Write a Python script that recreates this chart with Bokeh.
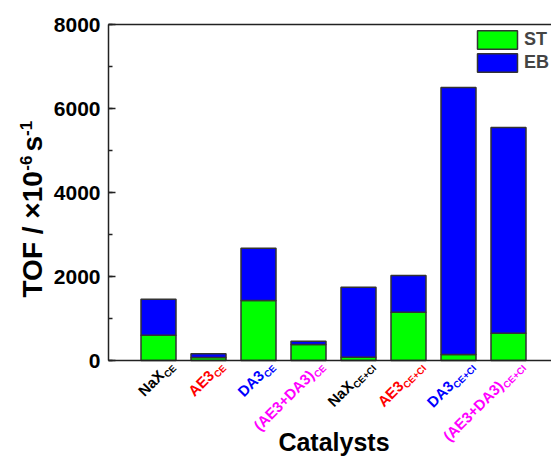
import math
from bokeh.plotting import figure
from bokeh.models import Range1d, Label, SingleIntervalTicker, FixedTicker, LinearAxis
from bokeh.embed import file_html
from bokeh.resources import INLINE

# ---- data ----
main_labels = ["NaX", "AE3", "DA3", "(AE3+DA3)", "NaX", "AE3", "DA3", "(AE3+DA3)"]
sub_labels = ["CE", "CE", "CE", "CE", "CE+CI", "CE+CI", "CE+CI", "CE+CI"]
label_colors = ["#000000", "#FF0000", "#0000FF", "#FF00FF",
                "#000000", "#FF0000", "#0000FF", "#FF00FF"]
st_values = [602, 71, 1429, 381, 79, 1151, 143, 650]
eb_values = [858, 89, 1241, 79, 1667, 873, 6357, 4898]
series_names = ["ST", "EB"]
series_colors = ["#00FF00", "#0000FF"]
y_max_tick = 8000

FONT = "Liberation Sans"
W = {'N': 722, 'a': 556, 'X': 667, 'A': 722, 'E': 667, '3': 556, 'D': 722, '(': 333,
     ')': 333, '+': 584, 'C': 722, 'I': 278, '-': 333, '6': 556, '1': 556, ' ': 278,
     's': 556, 'T': 611, 'O': 778, 'F': 611, '/': 278, '×': 584, '0': 556}


def tw(s, size):
    return sum(W.get(c, 556) for c in s) * size / 1000.0


# ---- layout geometry (pixels) ----
WIDTH, HEIGHT = 551, 457
AX_LEFT, AX_TOP, AX_BOTTOM = 108, 24, 360
PX_PER_X = 50.0
units_per_px = y_max_tick / (AX_BOTTOM - AX_TOP)

xs = list(range(1, len(main_labels) + 1))
data = dict(x=xs, ST=st_values, EB=eb_values)

x_start = -AX_LEFT / PX_PER_X
x_end = (WIDTH - AX_LEFT) / PX_PER_X
y_end = y_max_tick + AX_TOP * units_per_px
y_start = -(HEIGHT - AX_BOTTOM) * units_per_px

p = figure(width=WIDTH, height=HEIGHT, output_backend="svg", toolbar_location=None,
           x_range=Range1d(x_start, x_end), y_range=Range1d(y_start, y_end),
           x_axis_location=None, y_axis_location=None,
           min_border_left=0, min_border_right=0, min_border_top=0,
           min_border_bottom=0)
p.outline_line_color = None
p.background_fill_color = "white"
p.border_fill_color = "white"
for g in p.grid:
    g.visible = False
p.xgrid.grid_line_color = None
p.ygrid.grid_line_color = None

p.vbar_stack(series_names, x="x", width=0.7, source=data, color=series_colors,
             line_color="#333333", line_width=1.5, legend_label=series_names)

AXC = "#222222"
yaxis = LinearAxis(fixed_location=0, bounds=(0, y_max_tick),
                   ticker=SingleIntervalTicker(interval=2000, num_minor_ticks=2),
                   axis_line_width=1.5, axis_line_color=AXC,
                   major_tick_in=7, major_tick_out=0, minor_tick_in=4, minor_tick_out=0,
                   major_tick_line_width=1.5, minor_tick_line_width=1.5,
                   major_tick_line_color=AXC, minor_tick_line_color=AXC,
                   major_label_text_font=FONT, major_label_text_font_style="bold",
                   major_label_text_font_size="21px", major_label_text_color="black",
                   major_label_standoff=8)
p.add_layout(yaxis, "left")

xaxis = LinearAxis(fixed_location=0, bounds=(0, x_end), ticker=FixedTicker(ticks=[]),
                   axis_line_width=1.5, axis_line_color=AXC,
                   major_tick_line_color=None, minor_tick_line_color=None,
                   major_label_text_font_size="0px")
p.add_layout(xaxis, "below")

top_axis = LinearAxis(fixed_location=y_max_tick, bounds=(0, x_end),
                      ticker=FixedTicker(ticks=[]), axis_line_width=1.5,
                      axis_line_color=AXC, major_tick_line_color=None,
                      minor_tick_line_color=None, major_label_text_font_size="0px")
p.add_layout(top_axis, "above")

# legend
lg = p.legend[0]
lg.location = (472, 383)
lg.margin = 0
lg.padding = 0
lg.spacing = -1
lg.glyph_width = 50
lg.glyph_height = 23
lg.label_height = 20
lg.label_standoff = 2
lg.border_line_color = None
lg.background_fill_alpha = 0
lg.label_text_font = FONT
lg.label_text_font_style = "bold"
lg.label_text_font_size = "18px"

# x tick labels (rotated, with subscripts)
ang = math.pi / 4
c = math.cos(ang)
MAIN_SIZE = 15
SUB_SIZE = 9.5
end_dx, end_dy = 16, 6
gap, drop = 0.5, 5
for xi, m, s, col in zip(xs, main_labels, sub_labels, label_colors):
    p.add_layout(Label(x=xi, y=0, x_offset=end_dx, y_offset=-end_dy, text=s,
                       angle=ang, text_align="right", text_baseline="alphabetic",
                       text_font=FONT, text_font_style="bold",
                       text_font_size=f"{SUB_SIZE}px", text_color=col))
    L = tw(s, SUB_SIZE) + gap
    mx = end_dx - L * c - drop * c
    my = end_dy + L * c - drop * c
    p.add_layout(Label(x=xi, y=0, x_offset=mx, y_offset=-my, text=m,
                       angle=ang, text_align="right", text_baseline="alphabetic",
                       text_font=FONT, text_font_style="bold",
                       text_font_size=f"{MAIN_SIZE}px", text_color=col))

# x axis title
p.add_layout(Label(x=(x_end) / 2, y=0, x_offset=4, y_offset=-81, text="Catalysts",
                   text_align="center", text_baseline="alphabetic",
                   text_font=FONT, text_font_style="bold", text_font_size="25px",
                   text_color="black"))

# y axis title pieces (rotated 90 degrees): text, size, x offset, gap before
TS = 28
SS = 17
pieces = [("TOF / ×10", TS, -76, 0), ("-6", SS, -83, 0), ("s", TS, -76, 4),
          ("-1", SS, -83, 0)]
pos = 63
for txt, sz, xoff, pre in pieces:
    pos += pre
    p.add_layout(Label(x=0, y=0, x_offset=xoff, y_offset=pos, text=txt,
                       angle=math.pi / 2, text_align="left", text_baseline="alphabetic",
                       text_font=FONT, text_font_style="bold",
                       text_font_size=f"{sz}px", text_color="black"))
    pos += tw(txt, sz)

open("out.html", "w").write(file_html(p, INLINE))
